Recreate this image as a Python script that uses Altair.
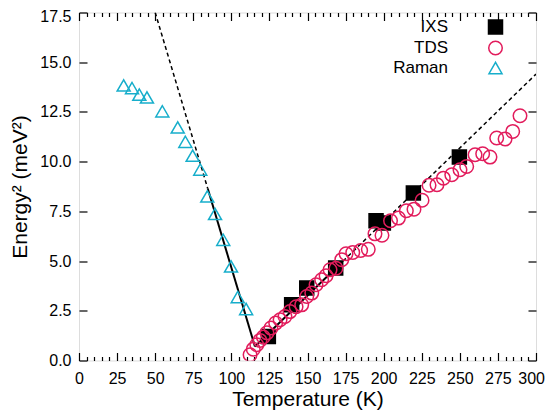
import altair as alt
import pandas as pd

# ---- data ----
series_order = ["IXS", "TDS", "Raman"]

ixs_T = [124.3, 139.6, 149.5, 168.5, 195.0, 199.8, 219.5, 249.7]
ixs_E = [1.21, 2.80, 3.64, 4.65, 7.03, 6.91, 8.42, 10.23]

tds_T = [112.3, 114.4, 116.7, 118.8, 121.0, 123.4, 126.0, 129.1, 132.0, 135.2,
         138.5, 142.5, 146.2, 149.5, 152.8, 155.6, 159.3, 162.2, 164.8, 168.7,
         172.5, 175.3, 179.7, 184.9, 189.9, 194.3, 198.9, 204.5, 209.7, 214.9,
         219.9, 225.2, 229.8, 235.0, 239.2, 244.7, 250.1, 254.5, 260.0, 265.0,
         269.8, 274.2, 279.7, 284.7, 289.5]
tds_E = [0.29, 0.57, 0.79, 1.01, 1.18, 1.39, 1.63, 1.88, 2.05, 2.21,
         2.46, 2.70, 2.80, 3.22, 3.39, 3.81, 4.06, 4.26, 4.56, 4.64,
         5.07, 5.37, 5.43, 5.53, 5.59, 6.37, 6.30, 7.03, 7.16, 7.53,
         7.61, 8.06, 8.81, 8.84, 9.17, 9.34, 9.59, 9.76, 10.35, 10.40,
         10.23, 11.19, 11.14, 11.52, 12.31]

raman_T = [29.3, 34.8, 39.6, 44.6, 54.7, 64.8, 69.8, 74.6, 79.6, 84.2,
           89.3, 94.7, 99.8, 104.2, 109.7]
raman_E = [13.83, 13.70, 13.37, 13.23, 12.53, 11.72, 11.00, 10.30, 9.60, 8.25,
           7.37, 6.07, 4.73, 3.19, 2.59]

# fit lines (endpoints)
solid_left_T = [84.5, 115.5]
solid_left_E = [8.65, 0.70]
dashed_left_T = [50.0, 84.5]
dashed_left_E = [17.5, 8.65]
solid_right_T = [115.5, 170.0]
solid_right_E = [0.70, 4.75]
dashed_right_T = [170.0, 300.0]
dashed_right_E = [4.75, 14.40]

x_major = list(range(0, 301, 25))
x_all = list(range(0, 301, 5))
y_major = [0.0, 2.5, 5.0, 7.5, 10.0, 12.5, 15.0, 17.5]

colors = ["#000000", "#E21C5C", "#17AECB"]
fills = ["#000000", "transparent", "transparent"]
shapes = ["square", "circle", "triangle-up"]
sizes = [196, 169, 132]

# ---- tables ----
pts = pd.concat([
    pd.DataFrame({"series": "IXS", "T": ixs_T, "E": ixs_E}),
    pd.DataFrame({"series": "TDS", "T": tds_T, "E": tds_E}),
    pd.DataFrame({"series": "Raman", "T": raman_T, "E": raman_E}),
])
solid = pd.concat([
    pd.DataFrame({"seg": "L", "T": solid_left_T, "E": solid_left_E}),
    pd.DataFrame({"seg": "R", "T": solid_right_T, "E": solid_right_E}),
])
dashed = pd.concat([
    pd.DataFrame({"seg": "L", "T": dashed_left_T, "E": dashed_left_E}),
    pd.DataFrame({"seg": "R", "T": dashed_right_T, "E": dashed_right_E}),
])

FONT = "Liberation Sans"
xscale = alt.Scale(domain=[0, 300], nice=False, zero=False)
yscale = alt.Scale(domain=[0, 17.5], nice=False, zero=False)

minor_tick = {"condition": {"test": "datum.value % 25 === 0", "value": 8}, "value": 4}
top_label_shift = {"condition": {"test": "datum.value >= 17.5", "value": 3.5}, "value": 0}
last_x_align = {"condition": {"test": "datum.value >= 300", "value": "right"}, "value": "center"}
last_x_shift = {"condition": {"test": "datum.value >= 300", "value": 8.5}, "value": 0}

def ticks_only(orient, offset, values, size):
    return alt.Axis(orient=orient, offset=offset, values=values, tickSize=size,
                    labels=False, domain=False, grid=False, title=None,
                    tickColor="black", tickWidth=1.2)

W, H = 457, 348

# main axes (labels + titles)
x_main = alt.Axis(orient="bottom", values=x_major, ticks=False, tickSize=0,
                  labelPadding=10, domain=False, grid=False,
                  labelFlush=False, labelOverlap=False,
                  labelAlign=last_x_align, labelOffset=last_x_shift,
                  title="Temperature (K)", titleFontSize=21, titleFontWeight="normal",
                  titlePadding=2, labelFontSize=16, labelColor="black",
                  titleColor="black", labelFont=FONT, titleFont=FONT)
y_main = alt.Axis(orient="left", values=y_major, format=".1f", ticks=False, tickSize=0,
                  labelPadding=8, domain=False, grid=False,
                  labelFlush=False, labelOverlap=False, labelOffset=top_label_shift,
                  title="Energy² (meV²)", titleFontSize=21, titleFontWeight="normal",
                  titlePadding=9, labelFontSize=16, labelColor="black",
                  titleColor="black", labelFont=FONT, titleFont=FONT)

dashed_layer = alt.Chart(dashed).mark_line(
    color="black", strokeWidth=1.5, strokeDash=[4, 3], clip=True
).encode(
    x=alt.X("T:Q", scale=xscale, axis=x_main),
    y=alt.Y("E:Q", scale=yscale, axis=y_main),
    detail="seg:N",
)

solid_layer = alt.Chart(solid).mark_line(
    color="black", strokeWidth=2, clip=True
).encode(
    x=alt.X("T:Q", scale=xscale, axis=ticks_only("top", -H, x_all, minor_tick)),
    y=alt.Y("E:Q", scale=yscale, axis=ticks_only("right", -W, y_major, 8)),
    detail="seg:N",
)

legend = alt.Legend(title=None, orient="none", legendX=408, legendY=6,
                    labelAlign="right", labelOffset={"expr": "-56"}, labelFontSize=17,
                    labelFont=FONT, labelColor="black", padding=0, rowPadding=0,
                    symbolSize=180, symbolStrokeWidth=1.5, labelLimit=0)

point_layer = alt.Chart(pts).mark_point(strokeWidth=1.5, opacity=1, clip=True).encode(
    x=alt.X("T:Q", scale=xscale, axis=ticks_only("bottom", -H, x_all, minor_tick)),
    y=alt.Y("E:Q", scale=yscale, axis=ticks_only("left", -W, y_major, 8)),
    color=alt.Color("series:N", scale=alt.Scale(domain=series_order, range=colors), legend=legend),
    fill=alt.Fill("series:N", scale=alt.Scale(domain=series_order, range=fills), legend=legend),
    shape=alt.Shape("series:N", scale=alt.Scale(domain=series_order, range=shapes), legend=legend),
    size=alt.Size("series:N", scale=alt.Scale(domain=series_order, range=sizes), legend=None),
)

chart = alt.layer(dashed_layer, solid_layer, point_layer).resolve_axis(
    x="independent", y="independent"
).properties(
    width=W, height=H,
    autosize=alt.AutoSizeParams(type="none"),
    padding={"left": 71, "top": 4.5, "right": 9, "bottom": 50},
).configure_view(
    stroke="black", strokeWidth=1.5
).configure(font=FONT, background="white")

chart.save("out.html", embed_options={"renderer": "svg", "actions": False})
